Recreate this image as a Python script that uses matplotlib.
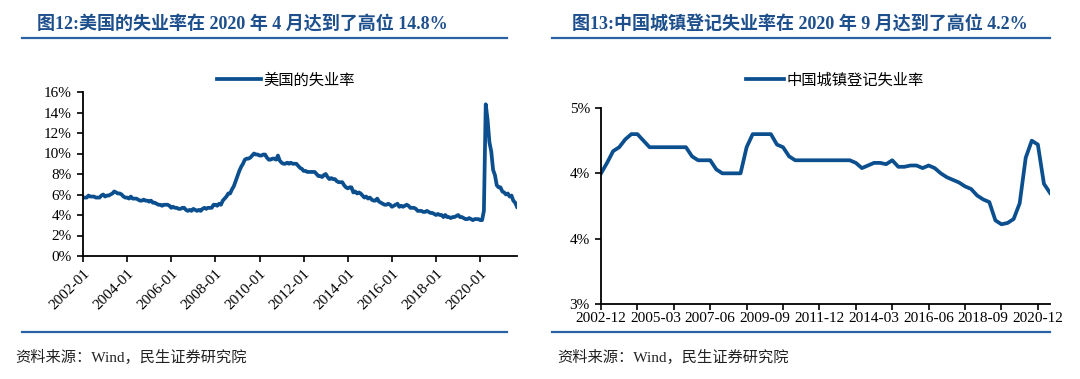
import math

import matplotlib
matplotlib.use("Agg")
import matplotlib.pyplot as plt
from matplotlib.lines import Line2D
from matplotlib.ticker import FuncFormatter, FixedLocator

LINE_BLUE = "#0c4f8f"
TITLE_BLUE = "#1d4f8c"
RULE_BLUE = "#2a62a3"

# US unemployment rate (%), monthly, 2002-01 .. 2021-09
us_rate = [
    5.7, 5.7, 5.7, 5.9, 5.8, 5.8, 5.8, 5.7, 5.7, 5.7, 5.9, 6.0,  # 2002
    5.8, 5.9, 5.9, 6.0, 6.1, 6.3, 6.2, 6.1, 6.1, 6.0, 5.8, 5.7,  # 2003
    5.7, 5.6, 5.8, 5.6, 5.6, 5.6, 5.5, 5.4, 5.4, 5.5, 5.4, 5.4,  # 2004
    5.3, 5.4, 5.2, 5.2, 5.1, 5.0, 5.0, 4.9, 5.0, 5.0, 5.0, 4.9,  # 2005
    4.7, 4.8, 4.7, 4.7, 4.6, 4.6, 4.7, 4.7, 4.5, 4.4, 4.5, 4.4,  # 2006
    4.6, 4.5, 4.4, 4.5, 4.4, 4.6, 4.7, 4.6, 4.7, 4.7, 4.7, 5.0,  # 2007
    5.0, 4.9, 5.1, 5.0, 5.4, 5.6, 5.8, 6.1, 6.1, 6.5, 6.8, 7.3,  # 2008
    7.8, 8.3, 8.7, 9.0, 9.4, 9.5, 9.5, 9.6, 9.8, 10.0, 9.9, 9.9,  # 2009
    9.8, 9.8, 9.9, 9.9, 9.6, 9.4, 9.4, 9.5, 9.5, 9.4, 9.8, 9.3,  # 2010
    9.1, 9.0, 9.0, 9.1, 9.0, 9.1, 9.0, 9.0, 9.0, 8.8, 8.6, 8.5,  # 2011
    8.3, 8.3, 8.2, 8.2, 8.2, 8.2, 8.2, 8.0, 7.8, 7.8, 7.7, 7.9,  # 2012
    8.0, 7.7, 7.5, 7.6, 7.5, 7.5, 7.3, 7.2, 7.2, 7.2, 6.9, 6.7,  # 2013
    6.6, 6.7, 6.7, 6.2, 6.3, 6.1, 6.2, 6.1, 5.9, 5.7, 5.8, 5.6,  # 2014
    5.7, 5.5, 5.4, 5.4, 5.6, 5.3, 5.2, 5.1, 5.0, 5.0, 5.1, 5.0,  # 2015
    4.8, 4.9, 5.0, 5.1, 4.8, 4.9, 4.8, 4.9, 5.0, 4.9, 4.7, 4.7,  # 2016
    4.7, 4.6, 4.4, 4.4, 4.4, 4.3, 4.3, 4.4, 4.3, 4.2, 4.2, 4.1,  # 2017
    4.0, 4.1, 4.0, 4.0, 3.8, 4.0, 3.8, 3.8, 3.7, 3.8, 3.8, 3.9,  # 2018
    4.0, 3.8, 3.8, 3.7, 3.6, 3.6, 3.7, 3.6, 3.5, 3.6, 3.6, 3.6,  # 2019
    3.5, 3.5, 4.4, 14.8, 13.3, 11.1, 10.2, 8.4, 7.9, 6.9, 6.7, 6.7,  # 2020
    6.3, 6.2, 6.0, 6.1, 5.8, 5.9, 5.4, 5.2, 4.8,  # 2021
]
us_xlabels = ["2002-01", "2004-01", "2006-01", "2008-01", "2010-01",
              "2012-01", "2014-01", "2016-01", "2018-01", "2020-01"]

# China registered urban unemployment rate (%), quarterly, 2002-12 .. 2021-06
cn_rate = [
    4.00, 4.08, 4.17, 4.20, 4.26, 4.30, 4.30, 4.25, 4.20, 4.20,
    4.20, 4.20, 4.20, 4.20, 4.20, 4.13, 4.10, 4.10, 4.10, 4.03,
    4.00, 4.00, 4.00, 4.00, 4.20, 4.30, 4.30, 4.30, 4.30, 4.22,
    4.20, 4.13, 4.10, 4.10, 4.10, 4.10, 4.10, 4.10, 4.10, 4.10,
    4.10, 4.10, 4.08, 4.04, 4.06, 4.08, 4.08, 4.07, 4.10, 4.05,
    4.05, 4.06, 4.06, 4.04, 4.06, 4.04, 4.00, 3.97, 3.95, 3.93,
    3.90, 3.88, 3.83, 3.80, 3.78, 3.64, 3.61, 3.62, 3.65, 3.77,
    4.12, 4.25, 4.22, 3.92, 3.85,
]
cn_xlabels = ["2002-12", "2005-03", "2007-06", "2009-09", "2011-12",
              "2014-03", "2016-06", "2018-09", "2020-12"]

plt.rcParams["font.family"] = ["Liberation Serif", "Noto Sans CJK SC"]
SANS = ["Noto Sans CJK SC", "DejaVu Sans"]
TITLE_FONT = ["Liberation Serif", "Noto Sans CJK SC"]

W, H = 1080, 379
fig = plt.figure(figsize=(W / 100, H / 100), dpi=100)


def fx(px):
    return px / W


def fy(py):
    return 1 - py / H


def style_axes(ax):
    for side in ("top", "right"):
        ax.spines[side].set_visible(False)
    for side in ("left", "bottom"):
        ax.spines[side].set_linewidth(1.3)
        ax.spines[side].set_color("black")
    ax.tick_params(axis="both", which="major", direction="out", length=4,
                   width=1.2, labelsize=11, colors="black", pad=4)


def frame(x0, x1, title_x, source_x, title, source):
    fig.text(fx(title_x), fy(24), title, fontsize=13, fontweight="bold",
             color=TITLE_BLUE, va="center", ha="left", family=TITLE_FONT)
    for y in (38, 332):
        fig.add_artist(Line2D([fx(x0), fx(x1)], [fy(y), fy(y)],
                              color=RULE_BLUE, lw=1.6))
    fig.text(fx(source_x), fy(357), source, fontsize=11,
             color="#222222", va="center", ha="left", family=TITLE_FONT)


# ---- left: US ----
ax1 = fig.add_axes([fx(83), fy(256), fx(517 - 83), fy(92) - fy(256)])
style_axes(ax1)
x_us = list(range(len(us_rate)))
line1, = ax1.plot(x_us, us_rate, color=LINE_BLUE, lw=2.7,
                  solid_joinstyle="round", label="美国的失业率")
ax1.set_xlim(0, len(us_rate) - 1)
ax1.set_ylim(0, 16)
ax1.set_yticks(range(0, 17, 2))
ax1.yaxis.set_major_formatter(FuncFormatter(lambda v, _: f"{v:.0f}%"))
ax1.set_xticks(list(range(0, len(us_rate), 24)))
ax1.set_xticklabels(us_xlabels, rotation=45, ha="right", rotation_mode="anchor")
ax1.legend(handles=[line1], loc="center", bbox_to_anchor=(fx(286), fy(80)),
           bbox_transform=fig.transFigure, frameon=False, handlelength=2.9,
           handletextpad=0.15, prop={"family": SANS, "size": 11})
frame(22, 507, 37, 15, "图12:美国的失业率在 2020 年 4 月达到了高位 14.8%",
      "资料来源：Wind，民生证券研究院")

# ---- right: China ----
ax2 = fig.add_axes([fx(601), fy(304), fx(1050 - 601), fy(108) - fy(304)])
style_axes(ax2)
x_cn = list(range(len(cn_rate)))
line2, = ax2.plot(x_cn, cn_rate, color=LINE_BLUE, lw=2.7,
                  solid_joinstyle="round", label="中国城镇登记失业率")
ax2.set_xlim(0, len(cn_rate) - 1)
ax2.set_ylim(3.0, 4.5)
ax2.set_yticks([3.0, 3.5, 4.0, 4.5])
ax2.yaxis.set_major_formatter(
    FuncFormatter(lambda v, _: f"{math.floor(v + 0.5 + 1e-9):d}%"))
ax2.xaxis.remove_overlapping_locs = False
ax2.xaxis.set_major_locator(FixedLocator(list(range(0, len(cn_rate), 6))))
ax2.xaxis.set_minor_locator(FixedLocator(list(range(0, len(cn_rate), 9))))
ax2.tick_params(axis="x", which="major", labelbottom=False)
ax2.tick_params(axis="x", which="minor", length=0, pad=5.5, labelsize=11)
ax2.set_xticklabels(cn_xlabels, minor=True)
ax2.legend(handles=[line2], loc="center", bbox_to_anchor=(fx(835), fy(80)),
           bbox_transform=fig.transFigure, frameon=False, handlelength=2.5,
           handletextpad=0.15, prop={"family": SANS, "size": 11})
frame(552, 1050, 572, 557, "图13:中国城镇登记失业率在 2020 年 9 月达到了高位 4.2%",
      "资料来源：Wind，民生证券研究院")

fig.savefig("out.png", dpi=100)
